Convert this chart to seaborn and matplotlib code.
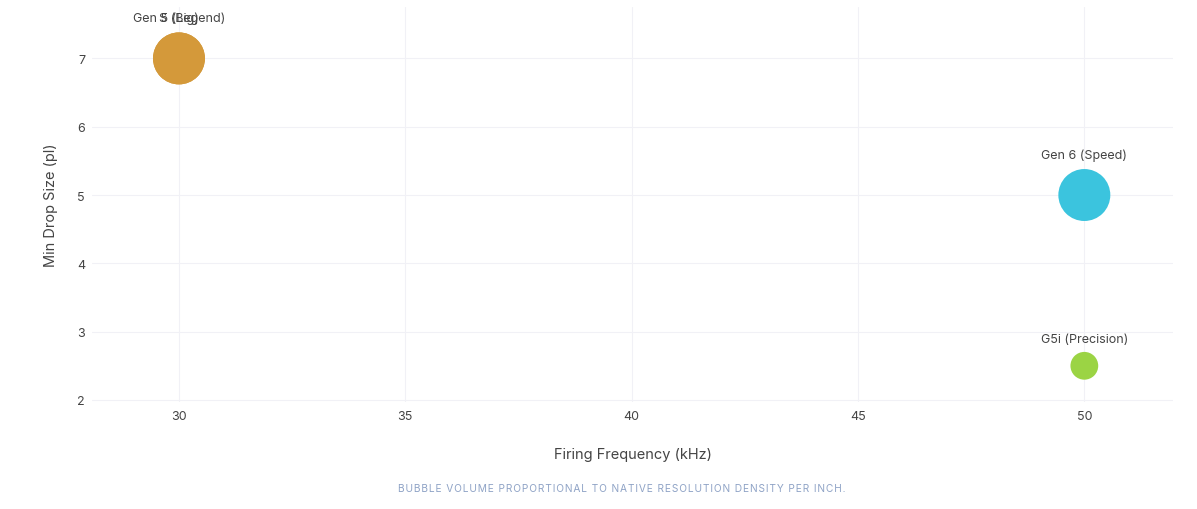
import numpy as np
import pandas as pd
import matplotlib
matplotlib.use('Agg')
import matplotlib.pyplot as plt
import seaborn as sns

# data
models = ['Gen 5 (Legend)', 'S (Big)', 'Gen 6 (Speed)', 'G5i (Precision)']
freq_khz = [30, 30, 50, 50]
drop_pl = [7, 7, 5, 2.5]
native_dpi = [1200, 1200, 1200, 600]
colors = ['#D4993A', '#D4993A', '#3BC4DE', '#9BD444']
footnote = 'BUBBLE VOLUME PROPORTIONAL TO NATIVE RESOLUTION DENSITY PER INCH.'

df = pd.DataFrame({'model': models, 'freq': freq_khz, 'drop': drop_pl, 'dpi': native_dpi})

sns.set_theme(style='white')
plt.rcParams['font.family'] = ['Inter', 'DejaVu Sans']

fig = plt.figure(figsize=(11.97, 5.10), dpi=100)
ax = fig.add_axes([0.0769, 0.2098, 0.9031, 0.7742])

sns.scatterplot(data=df, x='freq', y='drop', hue='model', palette=dict(zip(models, colors)),
                size='dpi', sizes=(400, 1400), alpha=1, linewidth=0, legend=False, ax=ax, zorder=3)

# labels above the bubbles
label_off = {1200: 29, 600: 19.5}
for m, x, y, d in zip(models, freq_khz, drop_pl, native_dpi):
    ax.annotate(m, (x, y), xytext=(0, label_off[d]), textcoords='offset points',
                ha='center', va='center', fontsize=9, color='#444444', zorder=4)

ax.set_xlim(28.08, 51.96)
ax.set_ylim(1.97, 7.75)
ax.set_xticks([30, 35, 40, 45, 50])
ax.set_yticks([2, 3, 4, 5, 6, 7])
ax.grid(True, color='#F1F1F6', linewidth=0.8)
ax.set_axisbelow(True)
for s in ax.spines.values():
    s.set_visible(False)
ax.tick_params(axis='both', length=0, labelsize=9, labelcolor='#444444')
ax.tick_params(axis='x', pad=6)
ax.tick_params(axis='y', pad=5)
ax.set_xlabel('Firing Frequency (kHz)', fontsize=10.5, color='#444444', labelpad=18)
ax.set_ylabel('Min Drop Size (pl)', fontsize=10.5, color='#444444', labelpad=14)

# letter-spaced footnote
spaced = '\u200a'.join(footnote)
fig.text(0.5192, 0.041, spaced, ha='center', va='center', fontsize=7.35, color='#8FA3C6')

fig.savefig('out.png', dpi=100)
